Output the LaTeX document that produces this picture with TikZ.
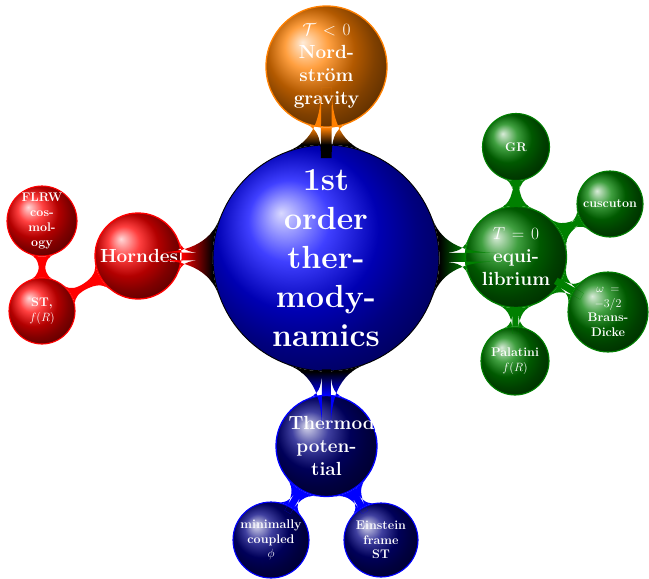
\documentclass[tikz,border=0pt]{standalone}
\usetikzlibrary{mindmap}
\colorlet{mygreen}{green!50!black}
\colorlet{mynavy}{blue!50!black}
\tikzset{
  bubble/.style={circle, inner sep=0pt},
  rootball/.style={bubble, ball color=blue, draw=black, line width=0.9pt},
  oneball/.style={bubble, line width=1.3pt},
  twoball/.style={bubble, line width=1.1pt},
  rootlbl/.style={text=white, align=center, inner sep=0pt, text width=112pt, font=\bfseries\fontsize{32}{39}\selectfont},
  onelbl/.style={text=white, align=center, inner sep=0pt, text width=76pt, font=\bfseries\fontsize{19}{23}\selectfont},
  twolbl/.style={text=white, align=center, inner sep=0pt, text width=66pt, font=\bfseries\fontsize{12.5}{14.8}\selectfont},
}
\begin{document}
\begin{tikzpicture}[x=1pt,y=1pt]
\useasboundingbox (0,0) rectangle (649,-579);
% root
\node[rootball, minimum size=226pt, label={[rootlbl]center:1st\\order\\ther-\\mody-\\namics}] (root) at (326,-258) {};
% level 1
\node[oneball, ball color=orange, draw=orange, minimum size=121pt,
  label={[onelbl]center:$\mathcal{T}<0$\\Nord-\\str\"om\\gravity}] (nord) at (326.5,-66.5) {};
\node[oneball, ball color=red, draw=red, minimum size=86pt,
  label={[onelbl]center:Horndeski}] (horn) at (138,-256) {};
\node[oneball, ball color=mygreen, draw=mygreen, minimum size=101pt,
  label={[onelbl]center:$T=0$\\equi-\\librium}] (equi) at (516,-257) {};
\node[oneball, ball color=mynavy, draw=blue, minimum size=101pt,
  label={[onelbl]center:Thermodynamic\\poten-\\tial}] (pot) at (326.5,-446) {};
% level 2 green
\node[twoball, ball color=mygreen, draw=mygreen, minimum size=67pt,
  label={[twolbl]center:GR}] (gr) at (516,-147) {};
\node[twoball, ball color=mygreen, draw=mygreen, minimum size=66pt,
  label={[twolbl]center:cuscuton}] (cusc) at (610,-204) {};
\node[twoball, ball color=mygreen, draw=mygreen, minimum size=80pt,
  label={[twolbl]center:$\omega=$\\$-3/2$\\Brans-\\Dicke}] (bd) at (608,-312) {};
\node[twoball, ball color=mygreen, draw=mygreen, minimum size=68pt,
  label={[twolbl]center:Palatini\\$f(R)$}] (pal) at (515,-361) {};
% level 2 red
\node[twoball, ball color=red, draw=red, minimum size=70pt,
  label={[twolbl]center:FLRW\\cos-\\mol-\\ogy}] (flrw) at (42,-221) {};
\node[twoball, ball color=red, draw=red, minimum size=66pt,
  label={[twolbl]center:ST,\\$f(R)$}] (st) at (42,-311) {};
% level 2 blue
\node[twoball, ball color=mynavy, draw=blue, minimum size=76pt,
  label={[twolbl]center:minimally\\coupled\\$\phi$}] (mini) at (271,-540) {};
\node[twoball, ball color=mynavy, draw=blue, minimum size=74pt,
  label={[twolbl]center:Einstein\\frame\\ST}] (ein) at (381,-540) {};
% connection bars
\path (root) to[circle connection bar switch color=from (black) to (orange)] (nord);
\path (root) to[circle connection bar switch color=from (black) to (red)] (horn);
\path (root) to[circle connection bar switch color=from (black) to (mygreen)] (equi);
\path (root) to[circle connection bar switch color=from (black) to (blue)] (pot);
\path (equi) to[circle connection bar switch color=from (mygreen) to (mygreen)] (gr);
\path (equi) to[circle connection bar switch color=from (mygreen) to (mygreen)] (cusc);
\path (equi) to[circle connection bar switch color=from (mygreen) to (mygreen)] (bd);
\path (equi) to[circle connection bar switch color=from (mygreen) to (mygreen)] (pal);
\path (horn) to[circle connection bar switch color=from (red) to (red)] (st);
\path (st) to[circle connection bar switch color=from (red) to (red)] (flrw);
\path (pot) to[circle connection bar switch color=from (blue) to (blue)] (mini);
\path (pot) to[circle connection bar switch color=from (blue) to (blue)] (ein);
\end{tikzpicture}
\end{document}
